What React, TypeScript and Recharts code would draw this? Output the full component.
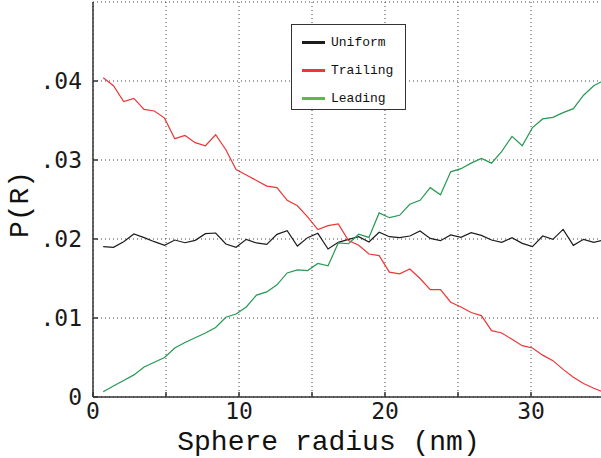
import React from "react";
import { LineChart, Line, XAxis, YAxis, CartesianGrid } from "recharts";

// Sphere radius (nm) sampled every 0.7 nm
const radius = [
  0.7, 1.4, 2.1, 2.8, 3.5, 4.2, 4.9, 5.6, 6.3, 7.0, 7.7, 8.4, 9.1, 9.8, 10.5, 11.2, 11.9, 12.6, 13.3, 14.0,
  14.7, 15.4, 16.1, 16.8, 17.5, 18.2, 18.9, 19.6, 20.3, 21.0, 21.7, 22.4, 23.1, 23.8, 24.5, 25.2, 25.9, 26.6,
  27.3, 28.0, 28.7, 29.4, 30.1, 30.8, 31.5, 32.2, 32.9, 33.6, 34.3, 35.0,
];

const uniform = [
  0.01903, 0.01895, 0.01966, 0.02063, 0.02017, 0.01966, 0.0192, 0.01987, 0.01953, 0.01983, 0.02067, 0.02076,
  0.01937, 0.01895, 0.01996, 0.0195, 0.01932, 0.02059, 0.02105, 0.01911, 0.02017, 0.02072, 0.01873, 0.01958,
  0.01996, 0.02029, 0.01962, 0.02085, 0.02029, 0.02017, 0.02038, 0.02101, 0.02008, 0.01979, 0.02051, 0.02021,
  0.0208, 0.02046, 0.01987, 0.01958, 0.02017, 0.01945, 0.01903, 0.02038, 0.01996, 0.02122, 0.0192, 0.01996,
  0.01958, 0.01987,
];

const trailing = [
  0.0404, 0.0394, 0.0374, 0.0378, 0.0364, 0.0362, 0.0353, 0.0327, 0.0331, 0.0322, 0.0318, 0.0332, 0.0313,
  0.0288, 0.0281, 0.0274, 0.0267, 0.0265, 0.0249, 0.0242, 0.0228, 0.0212, 0.0217, 0.0219, 0.0198, 0.0192,
  0.0181, 0.0179, 0.0158, 0.0156, 0.0162, 0.015, 0.0136, 0.0136, 0.012, 0.0114, 0.0107, 0.0103, 0.0084,
  0.0081, 0.0073, 0.0065, 0.0062, 0.0053, 0.0046, 0.0035, 0.0025, 0.0017, 0.0011, 0.0006,
];

const leading = [
  0.00067, 0.0014, 0.0021, 0.0028, 0.0038, 0.0044, 0.005, 0.0062, 0.0069, 0.0075, 0.0081, 0.0088, 0.0101,
  0.0105, 0.0114, 0.0129, 0.0133, 0.0142, 0.0157, 0.0161, 0.016, 0.0169, 0.0166, 0.0195, 0.0194, 0.0206,
  0.0202, 0.0233, 0.0227, 0.023, 0.0244, 0.0249, 0.0265, 0.0256, 0.0285, 0.0289, 0.0296, 0.0302, 0.0296,
  0.0311, 0.033, 0.0318, 0.0341, 0.0352, 0.0354, 0.036, 0.0365, 0.0382, 0.0394, 0.0401,
];

const xTicks = [0, 5, 10, 15, 20, 25, 30, 35];
const yTicks = [0, 0.01, 0.02, 0.03, 0.04];
const yTickLabels = ["0", ".01", ".02", ".03", ".04"];

const seriesNames = ["Uniform", "Trailing", "Leading"];
const lineColors = ["#1c1c1c", "#ef3535", "#259a52"];
const legendColors = ["#1c1c1c", "#ef3535", "#5cba4c"];

const data = radius.map((r, i) => ({
  r,
  uniform: uniform[i],
  trailing: trailing[i],
  leading: leading[i],
}));

// minor ticks along the left axis
const minorTicks = Array.from({ length: 101 }, (_, i) => i * 0.0005);

const tickFont = { fontFamily: "DejaVu Sans Mono", fontSize: 23, fill: "#1a1a1a" };
const titleFont = "Liberation Mono";

const Legend = () => (
  <div
    style={{
      position: "absolute",
      left: 291,
      top: 24,
      width: 113,
      height: 84,
      border: "1.5px solid #333",
      background: "#fff",
      fontFamily: titleFont,
      fontSize: 13,
      color: "#111",
    }}
  >
    {seriesNames.map((name, i) => (
      <div
        key={name}
        style={{ position: "absolute", left: 10, top: 9 + i * 28, height: 16, display: "flex", alignItems: "center" }}
      >
        <div style={{ width: 23, height: 3, background: legendColors[i], marginRight: 6 }} />
        <span>{name}</span>
      </div>
    ))}
  </div>
);

export default function App() {
  return (
    <div style={{ position: "fixed", left: 0, top: 0, width: 601, height: 458, overflow: "hidden", background: "#fff" }}>
      <LineChart width={620} height={458} data={data} margin={{ top: 2, right: 16, bottom: 0, left: 0 }}>
        <CartesianGrid stroke="#444" strokeDasharray="1 3" strokeWidth={1} />
        <XAxis
          dataKey="r"
          type="number"
          domain={[0, 35]}
          ticks={xTicks}
          allowDataOverflow
          height={61}
          tickSize={-5}
          tickMargin={11}
          tickFormatter={(v) => (v % 10 === 0 ? String(v) : "")}
          tick={tickFont}
          stroke="#333"
          strokeWidth={1.5}
          label={{
            value: "Sphere radius (nm)",
            position: "insideBottom",
            offset: 8,
            dx: -20,
            style: { fontFamily: titleFont, fontSize: 28, fill: "#111" },
          }}
        />
        <XAxis
          xAxisId="top"
          dataKey="r"
          type="number"
          orientation="top"
          mirror
          domain={[0, 35]}
          ticks={xTicks}
          height={0}
          tickSize={5}
          tick={false}
          stroke="#333"
          strokeWidth={1.5}
        />
        <YAxis
          type="number"
          domain={[0, 0.05]}
          ticks={yTicks}
          width={93}
          tickSize={-5}
          tickMargin={16}
          tickFormatter={(v) => yTickLabels[yTicks.indexOf(v)] ?? ""}
          tick={tickFont}
          stroke="#333"
          strokeWidth={1.5}
          label={{
            value: "P(R)",
            angle: -90,
            position: "center",
            dx: -28,
            dy: 5,
            style: { fontFamily: titleFont, fontSize: 28, fill: "#111" },
          }}
        />
        <YAxis
          yAxisId="minor"
          type="number"
          mirror
          domain={[0, 0.05]}
          ticks={minorTicks}
          width={0}
          tickSize={3}
          tick={false}
          axisLine={false}
          stroke="#555"
        />
        <Line dataKey="uniform" stroke={lineColors[0]} strokeWidth={1.2} dot={false} isAnimationActive={false} />
        <Line dataKey="trailing" stroke={lineColors[1]} strokeWidth={1.2} dot={false} isAnimationActive={false} />
        <Line dataKey="leading" stroke={lineColors[2]} strokeWidth={1.2} dot={false} isAnimationActive={false} />
      </LineChart>
      <Legend />
    </div>
  );
}
